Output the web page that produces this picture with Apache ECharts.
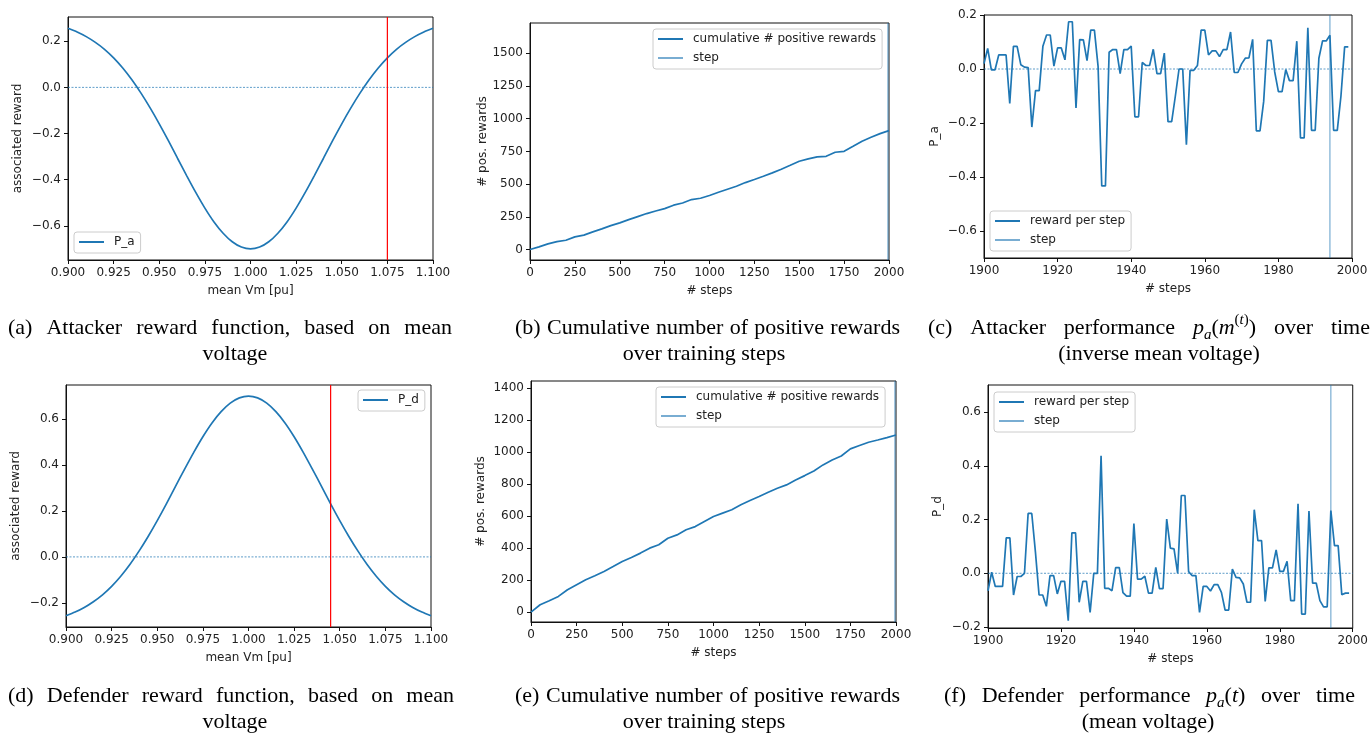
<!DOCTYPE html>
<html><head><meta charset="utf-8">
<script src="https://cdn.jsdelivr.net/npm/echarts@6/dist/echarts.min.js"></script>
<style>html,body{margin:0;padding:0;background:#fff}#c{width:1371px;height:735px}</style>
</head><body><div id="c"></div>
<script>
// ---------------- DATA ----------------
// (a)/(d) reward as function of mean voltage, sampled every 0.005 pu from 0.900 to 1.100
const vmStart = 0.9, vmStep = 0.005;
const attackerReward = [0.256,0.240,0.220,0.195,0.165,0.128,0.084,0.033,-0.025,-0.089,-0.158,-0.231,-0.307,-0.382,-0.455,-0.523,-0.583,-0.632,-0.669,-0.692,-0.700,-0.692,-0.669,-0.632,-0.583,-0.523,-0.455,-0.382,-0.307,-0.231,-0.158,-0.089,-0.025,0.033,0.084,0.128,0.165,0.195,0.220,0.240,0.256];
const defenderReward = [-0.256,-0.240,-0.220,-0.195,-0.165,-0.128,-0.084,-0.033,0.025,0.089,0.158,0.231,0.307,0.382,0.455,0.523,0.583,0.632,0.669,0.692,0.700,0.692,0.669,0.632,0.583,0.523,0.455,0.382,0.307,0.231,0.158,0.089,0.025,-0.033,-0.084,-0.128,-0.165,-0.195,-0.220,-0.240,-0.256];
const attackerVoltageMark = 1.075;
const defenderVoltageMark = 1.045;

// (b)/(e) cumulative # positive rewards, every 50 steps from 0 to 2000
const cumStepInterval = 50;
const attackerCumPos = [0,20,43,61,71,97,110,135,158,183,204,229,252,275,295,313,339,356,382,392,413,438,461,484,512,535,560,586,614,644,675,693,708,713,744,751,789,828,858,886,909];
const defenderCumPos = [0,46,71,98,140,171,202,227,254,285,317,342,369,400,421,462,483,515,535,567,598,619,640,671,698,723,750,775,796,827,854,883,921,952,977,1021,1042,1063,1077,1092,1108];

// (c)/(f) reward per step, steps 1900..1999
const perfStartStep = 1900;
const attackerPerStep = [0.02,0.076,-0.003,-0.003,0.052,0.052,0.052,-0.128,0.084,0.084,
0.016,0.007,0.005,-0.215,-0.08,-0.08,0.084,0.126,0.126,0.011,
0.078,0.078,0.034,0.175,0.175,-0.144,0.109,0.108,0.031,0.144,
0.144,0.01,-0.433,-0.433,0.062,0.072,0.072,-0.017,0.072,0.072,
0.085,-0.177,-0.177,0.024,0.013,0.013,0.073,-0.017,-0.017,0.059,
-0.195,-0.195,-0.1,0.0,0.0,-0.28,-0.005,-0.005,0.013,0.144,
0.144,0.052,0.067,0.067,0.046,0.072,0.072,0.137,-0.013,-0.013,
0.019,0.04,0.041,0.11,-0.229,-0.229,-0.12,0.106,0.106,-0.011,
-0.084,-0.084,-0.002,-0.043,-0.043,0.103,-0.255,-0.255,0.153,-0.227,
-0.227,0.04,0.104,0.104,0.125,-0.227,-0.227,-0.1,0.082,0.082];
const defenderPerStep = [-0.065,0.004,-0.049,-0.049,-0.049,0.132,0.132,-0.081,-0.012,-0.012,
0.0,0.223,0.223,0.08,-0.081,-0.081,-0.123,-0.009,-0.009,-0.077,
-0.03,-0.03,-0.177,0.151,0.151,-0.108,-0.03,-0.03,-0.146,0.0,
0.0,0.438,-0.056,-0.056,-0.065,0.021,0.021,-0.072,-0.085,-0.085,
0.185,-0.022,-0.022,-0.011,-0.074,-0.074,0.022,-0.057,-0.057,0.202,
0.094,0.091,0.0,0.29,0.29,0.006,-0.009,-0.009,-0.146,-0.049,
-0.049,-0.066,-0.042,-0.042,-0.071,-0.137,-0.137,0.016,-0.015,-0.017,
-0.04,-0.108,-0.108,0.237,0.122,0.122,-0.105,0.02,0.02,0.087,
0.007,0.007,0.045,-0.102,-0.102,0.259,-0.152,-0.152,0.232,-0.037,
-0.037,-0.102,-0.125,-0.125,0.234,0.103,0.103,-0.08,-0.074,-0.074];
const currentStep = 1994;

// tick labels
const vmTicks = [0.9,0.925,0.95,0.975,1.0,1.025,1.05,1.075,1.1];
const rewardATicks = [-0.6,-0.4,-0.2,0.0,0.2];
const rewardDTicks = [-0.2,0.0,0.2,0.4,0.6];
const trainStepTicks = [0,250,500,750,1000,1250,1500,1750,2000];
const cumATicks = [0,250,500,750,1000,1250,1500];
const cumDTicks = [0,200,400,600,800,1000,1200,1400];
const perfStepTicks = [1900,1920,1940,1960,1980,2000];
const perfATicks = [-0.6,-0.4,-0.2,0.0,0.2];
const perfDTicks = [-0.2,0.0,0.2,0.4,0.6];

// ---------------- CHART ----------------
const C0 = '#1f77b4';
const STEPC = 'rgba(31,119,180,0.6)';
const F = '"DejaVu Sans", sans-serif';
const SERIF = '"Liberation Serif", "Times New Roman", serif';
const FS = 12;
const minus = s => s.replace('-', '\u2212');
const f1 = v => minus(v.toFixed(1));
const f3 = v => minus(v.toFixed(3));
const f0 = v => String(Math.round(v));

const vm = attackerReward.map((_, i) => +(vmStart + i * vmStep).toFixed(3));
const cumSteps = attackerCumPos.map((_, i) => i * cumStepInterval);
const perfSteps = attackerPerStep.map((_, i) => perfStartStep + i);

const grids = [
  {left: 68, top: 17, width: 365, height: 243},
  {left: 530, top: 23, width: 359, height: 237},
  {left: 984, top: 15, width: 368, height: 243},
  {left: 66, top: 385, width: 365, height: 242},
  {left: 531, top: 381, width: 365, height: 241},
  {left: 988, top: 385, width: 365, height: 243}
].map(g => Object.assign({show: true, borderColor: '#111', borderWidth: 1, containLabel: false}, g));

function axis(gi, min, max, ticks, fmt, name, gap, isY) {
  return {
    type: 'value', gridIndex: gi, min: min, max: max,
    name: name, nameLocation: 'middle', nameGap: gap,
    nameTextStyle: {fontSize: FS, color: '#222', fontFamily: F},
    axisLine: {show: true, onZero: false, lineStyle: {color: '#111', width: 1}},
    axisTick: {show: true, inside: false, length: 4, customValues: ticks, lineStyle: {color: '#111'}},
    axisLabel: {customValues: ticks, formatter: fmt, fontSize: FS, color: '#222', fontFamily: F, margin: 7},
    splitLine: {show: false}
  };
}

const xLim = {a: [0.9, 1.1], b: [0, 2000], c: [1900, 2000], d: [0.9, 1.1], e: [0, 2000], f: [1900, 2000]};
const yLim = {
  a: [-0.748, 0.305], b: [-80, 1732], c: [-0.7, 0.2],
  d: [-0.305, 0.748], e: [-62, 1446], f: [-0.204, 0.702]
};

const xAxes = [
  axis(0, xLim.a[0], xLim.a[1], vmTicks, f3, 'mean Vm [pu]', 25),
  axis(1, xLim.b[0], xLim.b[1], trainStepTicks, f0, '# steps', 25),
  axis(2, xLim.c[0], xLim.c[1], perfStepTicks, f0, '# steps', 25),
  axis(3, xLim.d[0], xLim.d[1], vmTicks, f3, 'mean Vm [pu]', 25),
  axis(4, xLim.e[0], xLim.e[1], trainStepTicks, f0, '# steps', 25),
  axis(5, xLim.f[0], xLim.f[1], perfStepTicks, f0, '# steps', 25)
];
const yAxes = [
  axis(0, yLim.a[0], yLim.a[1], rewardATicks, f1, 'associated reward', 44, true),
  axis(1, yLim.b[0], yLim.b[1], cumATicks, f0, '# pos. rewards', 40, true),
  axis(2, yLim.c[0], yLim.c[1], perfATicks, f1, 'P_a', 43, true),
  axis(3, yLim.d[0], yLim.d[1], rewardDTicks, f1, 'associated reward', 44, true),
  axis(4, yLim.e[0], yLim.e[1], cumDTicks, f0, '# pos. rewards', 44, true),
  axis(5, yLim.f[0], yLim.f[1], perfDTicks, f1, 'P_d', 44, true)
];

function mainLine(name, gi, data, smooth) {
  return {name: name, type: 'line', xAxisIndex: gi, yAxisIndex: gi, data: data, symbol: 'none',
    smooth: smooth || false,
    lineStyle: {color: C0, width: 1.7}, itemStyle: {color: C0}, z: 3};
}
function stepLine(gi, lim) {
  return {name: 'step', type: 'line', xAxisIndex: gi, yAxisIndex: gi, symbol: 'none',
    data: [[currentStep, lim[0]], [currentStep, lim[1]]],
    lineStyle: {color: STEPC, width: 1.2}, itemStyle: {color: STEPC}, z: 4};
}
function zeroLine(gi, lim) {
  return {name: 'zero', type: 'line', xAxisIndex: gi, yAxisIndex: gi, symbol: 'none', silent: true,
    data: [[lim[0], 0], [lim[1], 0]],
    lineStyle: {color: C0, width: 0.8, type: [2, 1.5], opacity: 0.9}, z: 2};
}
function redLine(gi, x, lim) {
  return {name: 'voltage', type: 'line', xAxisIndex: gi, yAxisIndex: gi, symbol: 'none', silent: true,
    data: [[x, lim[0]], [x, lim[1]]],
    lineStyle: {color: '#ff0000', width: 1.2}, z: 4};
}

const series = [
  zeroLine(0, xLim.a),
  mainLine('P_a', 0, vm.map((v, i) => [v, attackerReward[i]]), 0.25),
  redLine(0, attackerVoltageMark, yLim.a),
  mainLine('cumulative # positive rewards', 1, cumSteps.map((s, i) => [s, attackerCumPos[i]])),
  stepLine(1, yLim.b),
  zeroLine(2, xLim.c),
  mainLine('reward per step', 2, perfSteps.map((s, i) => [s, attackerPerStep[i]])),
  stepLine(2, yLim.c),
  zeroLine(3, xLim.d),
  mainLine('P_d', 3, vm.map((v, i) => [v, defenderReward[i]]), 0.25),
  redLine(3, defenderVoltageMark, yLim.d),
  mainLine('cumulative # positive rewards', 4, cumSteps.map((s, i) => [s, defenderCumPos[i]])),
  stepLine(4, yLim.e),
  zeroLine(5, xLim.f),
  mainLine('reward per step', 5, perfSteps.map((s, i) => [s, defenderPerStep[i]])),
  stepLine(5, yLim.f)
];

function legend(names, left, top) {
  return {data: names.map(n => ({name: n, icon: 'rect'})), left: left, top: top, orient: 'vertical',
    itemWidth: 25, itemHeight: 2, itemGap: 7,
    backgroundColor: 'rgba(255,255,255,0.85)', borderColor: '#cccccc', borderWidth: 1, borderRadius: 3,
    padding: [4, 6, 5, 5], selectedMode: false,
    textStyle: {fontSize: FS, color: '#222', fontFamily: F, padding: [0, 0, 0, 5]}};
}
const legends = [
  legend(['P_a'], 74, 232),
  legend(['cumulative # positive rewards', 'step'], 653, 29),
  legend(['reward per step', 'step'], 990, 211),
  legend(['P_d'], 358, 390),
  legend(['cumulative # positive rewards', 'step'], 656, 387),
  legend(['reward per step', 'step'], 994, 392)
];

// ---------------- CAPTIONS ----------------
const CAPS = 22, SUBS = 15;
const capFont = CAPS + 'px ' + SERIF;
const rich = {
  i: {fontStyle: 'italic', fontSize: CAPS, fontFamily: SERIF, lineHeight: 30, color: '#000'},
  s: {fontStyle: 'italic', fontSize: SUBS, fontFamily: SERIF, lineHeight: 15, verticalAlign: 'bottom', color: '#000'},
  u: {fontStyle: 'normal', fontSize: SUBS, fontFamily: SERIF, lineHeight: 15, verticalAlign: 'top', color: '#000'},
  ui: {fontStyle: 'italic', fontSize: SUBS, fontFamily: SERIF, lineHeight: 15, verticalAlign: 'top', color: '#000'},
  n: {fontSize: CAPS, fontFamily: SERIF, lineHeight: 30, color: '#000'}
};
const mctx = document.createElement('canvas').getContext('2d');
function mw(font, t) { mctx.font = font; return mctx.measureText(t).width; }
const fontOf = k => ((rich[k].fontStyle === 'italic') ? 'italic ' : '') + rich[k].fontSize + 'px ' + SERIF;

function cap(text, x, y, align, useRich) {
  const st = {text: text, font: capFont, fill: '#000', align: align || 'center', verticalAlign: 'middle',
    textAlign: align || 'center', textVerticalAlign: 'middle', lineHeight: 30};
  if (useRich) st.rich = rich;
  return {type: 'text', x: x, y: y, silent: true, style: st};
}
// a "word" is either plain text or a list of [richKey, text] segments (math)
function wordInfo(w) {
  if (typeof w === 'string') return {text: w, rich: false, width: mw(capFont, w)};
  let t = '', width = 0;
  w.forEach(([k, s]) => { t += '{' + k + '|' + s + '}'; width += mw(fontOf(k), s); });
  return {text: t, rich: true, width: width};
}
function justified(words, left, right, y) {
  const info = words.map(wordInfo);
  const total = info.reduce((s, w) => s + w.width, 0);
  const gap = Math.max(4, (right - left - total) / (info.length - 1));
  let x = left;
  return info.map(w => { const el = cap(w.text, x, y, 'left', w.rich); x += w.width + gap; return el; });
}
const pa_m = [['i', 'p'], ['s', 'a'], ['n', '('], ['i', 'm'], ['u', '('], ['ui', 't'], ['u', ')'], ['n', ')']];
const pa_t = [['i', 'p'], ['s', 'a'], ['n', '('], ['i', 't'], ['n', ')']];

const graphic = [].concat(
  justified(['(a)', 'Attacker', 'reward', 'function,', 'based', 'on', 'mean'], 8, 452, 328),
  [cap('voltage', 235, 354)],
  justified(['(b)', 'Cumulative', 'number', 'of', 'positive', 'rewards'], 515, 900, 328),
  [cap('over training steps', 704, 354)],
  justified(['(c)', 'Attacker', 'performance', pa_m, 'over', 'time'], 928, 1370, 328),
  [cap('(inverse mean voltage)', 1159, 354)],
  justified(['(d)', 'Defender', 'reward', 'function,', 'based', 'on', 'mean'], 8, 454, 696),
  [cap('voltage', 235, 722)],
  justified(['(e)', 'Cumulative', 'number', 'of', 'positive', 'rewards'], 515, 900, 696),
  [cap('over training steps', 704, 722)],
  justified(['(f)', 'Defender', 'performance', pa_t, 'over', 'time'], 944, 1355, 696),
  [cap('(mean voltage)', 1148, 722)]
);

const chart = echarts.init(document.getElementById('c'), null, {renderer: 'canvas'});
chart.setOption({
  animation: false,
  backgroundColor: '#ffffff',
  grid: grids, xAxis: xAxes, yAxis: yAxes, legend: legends, series: series, graphic: graphic
});
</script></body></html>
